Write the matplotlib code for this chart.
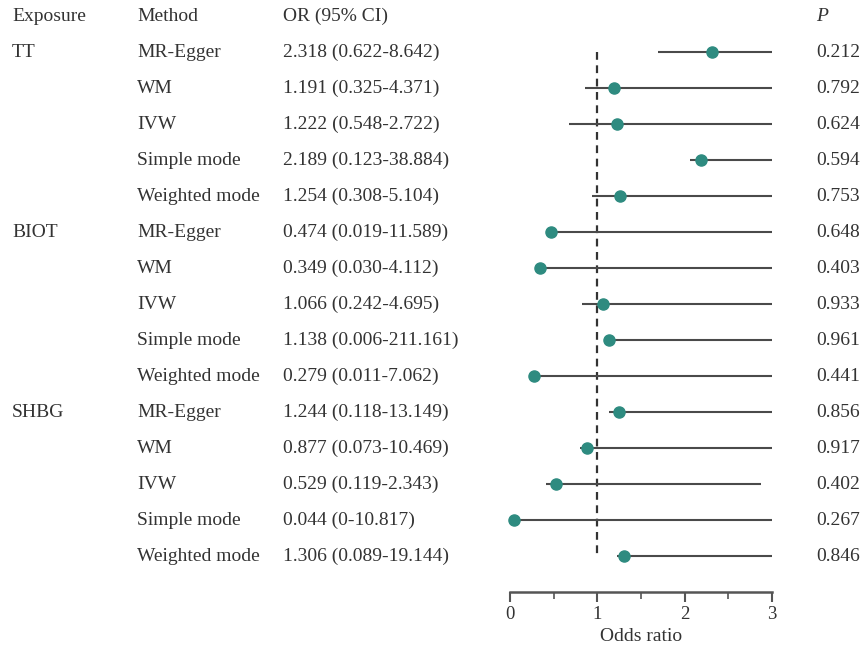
import matplotlib.pyplot as plt
import matplotlib.transforms as mtransforms

plt.rcParams["font.family"] = ["Liberation Serif", "DejaVu Serif"]

exposures = ["TT", "BIOT", "SHBG"]
methods = ["MR-Egger", "WM", "IVW", "Simple mode", "Weighted mode"]

or_text = [
    "2.318 (0.622-8.642)", "1.191 (0.325-4.371)", "1.222 (0.548-2.722)",
    "2.189 (0.123-38.884)", "1.254 (0.308-5.104)",
    "0.474 (0.019-11.589)", "0.349 (0.030-4.112)", "1.066 (0.242-4.695)",
    "1.138 (0.006-211.161)", "0.279 (0.011-7.062)",
    "1.244 (0.118-13.149)", "0.877 (0.073-10.469)", "0.529 (0.119-2.343)",
    "0.044 (0-10.817)", "1.306 (0.089-19.144)",
]
p_values = ["0.212", "0.792", "0.624", "0.594", "0.753",
            "0.648", "0.403", "0.933", "0.961", "0.441",
            "0.856", "0.917", "0.402", "0.267", "0.846"]

# point estimates and the segment ends as drawn in the picture
or_point = [2.318, 1.191, 1.222, 2.189, 1.254,
            0.474, 0.349, 1.066, 1.138, 0.279,
            1.244, 0.877, 0.529, 0.044, 1.306]
line_lo = [1.70, 0.86, 0.67, 2.06, 0.94,
           0.474, 0.349, 0.82, 1.138, 0.279,
           1.13, 0.80, 0.41, 0.044, 1.22]
line_hi = [3, 3, 3, 3, 3,
           3, 3, 3, 3, 3,
           3, 3, 2.875, 3, 3]

W, H = 864, 649
fig = plt.figure(figsize=(W / 100, H / 100), dpi=100)
x0, x3 = 510, 772
ax_top, ax_bot = 0, 592
ax = fig.add_axes([x0 / W, 1 - ax_bot / H, (x3 - x0) / W, (ax_bot - ax_top) / H])
ax.set_xlim(0, 3)
ax.set_ylim(16, -16 / 36)
ax.patch.set_alpha(0)

txt_col = "#333333"
line_col = "#4a4a4a"
dot_col = "#2e8b80"
fs = 14
base_off = 0.14  # baseline sits a little below the row centre

rows = list(range(1, 16))
ax.vlines(1, 1, 15, colors="#333333", linestyles=(0, (3.5, 2.5)), lw=1.6, zorder=1)
ax.hlines(rows, line_lo, line_hi, colors=line_col, lw=1.5, zorder=2)
ax.plot(or_point, rows, "o", color=dot_col, ms=8, zorder=3, clip_on=False)

tr = mtransforms.blended_transform_factory(fig.transFigure, ax.transData)


def put(xpx, y, s, **kw):
    ax.text(xpx / W, y + base_off, s, transform=tr, fontsize=fs, color=txt_col,
            va="baseline", ha="left", clip_on=False, **kw)


put(12, 0, "Exposure")
put(137, 0, "Method")
put(283, 0, "OR (95% CI)")
put(816, 0, "P", style="italic")

for i, r in enumerate(rows):
    if i % 5 == 0:
        put(12, r, exposures[i // 5])
    put(137, r, methods[i % 5])
    put(283, r, or_text[i])
    put(816, r, p_values[i])

for side in ["top", "right", "left"]:
    ax.spines[side].set_visible(False)
ax.spines["bottom"].set_color("#555555")
ax.spines["bottom"].set_linewidth(1.8)
ax.spines["bottom"].set_bounds(0, 3)
ax.set_yticks([])
ax.set_xticks([0, 1, 2, 3])
ax.set_xticks([0.5, 1.5, 2.5], minor=True)
ax.tick_params(axis="x", which="major", length=7, width=1.5, color="#555555",
               labelsize=13.5, labelcolor=txt_col, pad=3)
ax.tick_params(axis="x", which="minor", length=5, width=1.2, color="#555555")
ax.set_xlabel("Odds ratio", fontsize=fs, color=txt_col, labelpad=4)

fig.savefig("out.png", dpi=100)
